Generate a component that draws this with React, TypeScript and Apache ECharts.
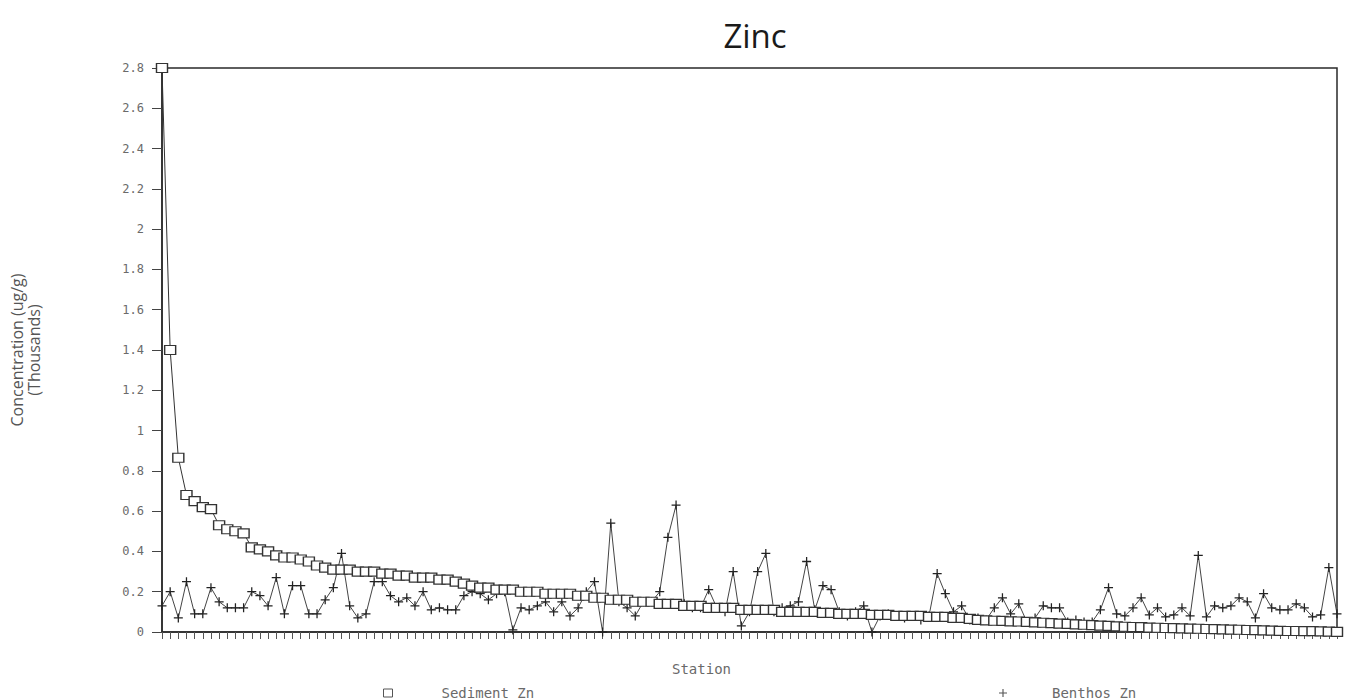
import React, { useEffect, useRef } from "react";
import * as echarts from "echarts";

const sedimentZn: number[] = [
  2.8, 1.4, 0.865, 0.68, 0.65, 0.62, 0.61, 0.53, 0.51, 0.5,
  0.49, 0.42, 0.41, 0.4, 0.38, 0.37, 0.37, 0.36, 0.35, 0.33,
  0.32, 0.31, 0.31, 0.31, 0.3, 0.3, 0.3, 0.29, 0.29, 0.28,
  0.28, 0.27, 0.27, 0.27, 0.26, 0.26, 0.25, 0.24, 0.23, 0.22,
  0.22, 0.21, 0.21, 0.21, 0.2, 0.2, 0.2, 0.19, 0.19, 0.19,
  0.19, 0.18, 0.18, 0.17, 0.17, 0.16, 0.16, 0.16, 0.15, 0.15,
  0.15, 0.14, 0.14, 0.14, 0.13, 0.13, 0.13, 0.12, 0.12, 0.12,
  0.12, 0.11, 0.11, 0.11, 0.11, 0.11, 0.1, 0.1, 0.1, 0.1,
  0.1, 0.095, 0.095, 0.09, 0.09, 0.09, 0.09, 0.085, 0.085, 0.085,
  0.08, 0.08, 0.08, 0.08, 0.075, 0.075, 0.075, 0.07, 0.07, 0.065,
  0.06, 0.058, 0.056, 0.055, 0.053, 0.052, 0.05, 0.048, 0.046, 0.044,
  0.042, 0.04, 0.038, 0.036, 0.034, 0.032, 0.03, 0.028, 0.026, 0.025,
  0.024, 0.022, 0.021, 0.02, 0.019, 0.018, 0.017, 0.016, 0.015, 0.014,
  0.013, 0.012, 0.011, 0.01, 0.009, 0.008, 0.007, 0.006, 0.005, 0.005,
  0.004, 0.004, 0.003, 0.002, 0.001,
];

const benthosZn: number[] = [
  0.13, 0.2, 0.07, 0.25, 0.09, 0.09, 0.22, 0.15, 0.12, 0.12,
  0.12, 0.2, 0.18, 0.13, 0.27, 0.09, 0.23, 0.23, 0.09, 0.09,
  0.16, 0.22, 0.39, 0.13, 0.07, 0.09, 0.25, 0.25, 0.18, 0.15,
  0.17, 0.13, 0.2, 0.11, 0.12, 0.11, 0.11, 0.18, 0.2, 0.19,
  0.16, 0.19, 0.2, 0.01, 0.12, 0.11, 0.13, 0.15, 0.1, 0.15,
  0.08, 0.12, 0.2, 0.25, 0.0, 0.54, 0.15, 0.12, 0.08, 0.15,
  0.15, 0.2, 0.47, 0.63, 0.14, 0.12, 0.12, 0.21, 0.12, 0.1,
  0.3, 0.03, 0.1, 0.3, 0.39, 0.1, 0.12, 0.13, 0.15, 0.35,
  0.11, 0.23, 0.21, 0.1, 0.08, 0.1, 0.13, 0.0, 0.08, 0.09,
  0.08, 0.07, 0.08, 0.06, 0.08, 0.29, 0.19, 0.1, 0.13, 0.06,
  0.07, 0.06, 0.12, 0.17, 0.09, 0.14, 0.05, 0.07, 0.13, 0.12,
  0.12, 0.05, 0.06, 0.05, 0.05, 0.11, 0.22, 0.09, 0.08, 0.12,
  0.17, 0.085, 0.12, 0.075, 0.085, 0.12, 0.08, 0.38, 0.075, 0.13,
  0.12, 0.13, 0.17, 0.15, 0.07, 0.19, 0.12, 0.11, 0.11, 0.14,
  0.12, 0.075, 0.085, 0.32, 0.09,
];

const stations: string[] = sedimentZn.map((_, i) => String(i + 1));

const yTickLabels: string[] = [
  "0", "0.2", "0.4", "0.6", "0.8", "1", "1.2", "1.4", "1.6", "1.8",
  "2", "2.2", "2.4", "2.6", "2.8",
];

const PLUS = "path://M4.3,0H5.7V4.3H10V5.7H5.7V10H4.3V5.7H0V4.3H4.3Z";

export default function App() {
  const ref = useRef<HTMLDivElement>(null);
  useEffect(() => {
    if (!ref.current) return;
    const chart = echarts.init(ref.current, undefined, { renderer: "svg" });
    const ink = "#2a2a2a";
    const labelGray = "#6a6a6a";
    chart.setOption({
      animation: false,
      backgroundColor: "#ffffff",
      title: {
        text: "Zinc",
        left: 750,
        top: 14,
        textAlign: "center",
        textStyle: {
          fontFamily: "Open Sans",
          fontSize: 33,
          fontWeight: "normal",
          color: "#1a1a1a",
        },
      },
      legend: [
        {
          data: [{ name: "Sediment Zn", icon: "rect" }],
          left: 378,
          top: 681,
          itemWidth: 9,
          itemHeight: 8,
          textStyle: {
            fontFamily: "DejaVu Sans Mono",
            fontSize: 14,
            color: labelGray,
            padding: [0, 0, 0, 44],
          },
          itemStyle: { color: "#fff", borderColor: "#555", borderWidth: 1 },
          lineStyle: { opacity: 0 },
        },
        {
          data: [{ name: "Benthos Zn", icon: PLUS }],
          left: 994,
          top: 681,
          itemWidth: 8,
          itemHeight: 8,
          textStyle: {
            fontFamily: "DejaVu Sans Mono",
            fontSize: 14,
            color: labelGray,
            padding: [0, 0, 0, 40],
          },
          itemStyle: { color: "#555" },
          lineStyle: { opacity: 0 },
        },
      ],
      grid: {
        left: 160,
        right: 8,
        top: 68,
        bottom: 68,
        show: true,
        borderColor: ink,
        borderWidth: 1.5,
        backgroundColor: "transparent",
      },
      xAxis: {
        type: "category",
        data: stations,
        boundaryGap: false,
        name: "Station",
        nameLocation: "middle",
        nameGap: 30,
        nameTextStyle: {
          fontFamily: "DejaVu Sans Mono",
          fontSize: 14,
          color: labelGray,
          padding: [0, 96, 0, 0],
        },
        axisLine: { lineStyle: { color: ink, width: 1.5 } },
        axisTick: {
          show: true,
          interval: 0,
          length: 7,
          lineStyle: { color: "#555", width: 1 },
        },
        axisLabel: { show: false },
        splitLine: { show: false },
      },
      yAxis: {
        type: "value",
        min: 0,
        max: 2.8,
        interval: 0.2,
        name: "Concentration (ug/g)\n(Thousands)",
        nameLocation: "middle",
        nameGap: 120,
        nameRotate: 90,
        nameTextStyle: {
          fontFamily: "Open Sans",
          fontSize: 16,
          color: "#555",
          lineHeight: 17,
        },
        axisLine: { show: true, lineStyle: { color: ink, width: 1.5 } },
        axisTick: {
          show: true,
          length: 10,
          lineStyle: { color: "#444", width: 1 },
        },
        axisLabel: {
          margin: 18,
          fontFamily: "DejaVu Sans Mono",
          fontSize: 12,
          color: labelGray,
          formatter: (v: number) => {
            const idx = Math.round(v / 0.2);
            return yTickLabels[idx] ?? "";
          },
        },
        splitLine: { show: false },
      },
      series: [
        {
          name: "Sediment Zn",
          type: "line",
          data: sedimentZn,
          symbol: "rect",
          symbolSize: [11, 9],
          showAllSymbol: true,
          itemStyle: { color: "#fff", borderColor: "#333", borderWidth: 1.3 },
          lineStyle: { color: "#333", width: 1 },
          z: 3,
        },
        {
          name: "Benthos Zn",
          type: "line",
          data: benthosZn,
          symbol: PLUS,
          symbolSize: 9,
          showAllSymbol: true,
          itemStyle: { color: "#222" },
          lineStyle: { color: "#444", width: 1 },
          z: 2,
        },
      ],
    });
    return () => chart.dispose();
  }, []);
  return (
    <div
      ref={ref}
      style={{ position: "fixed", left: 0, top: 0, width: 1345, height: 700 }}
    />
  );
}
